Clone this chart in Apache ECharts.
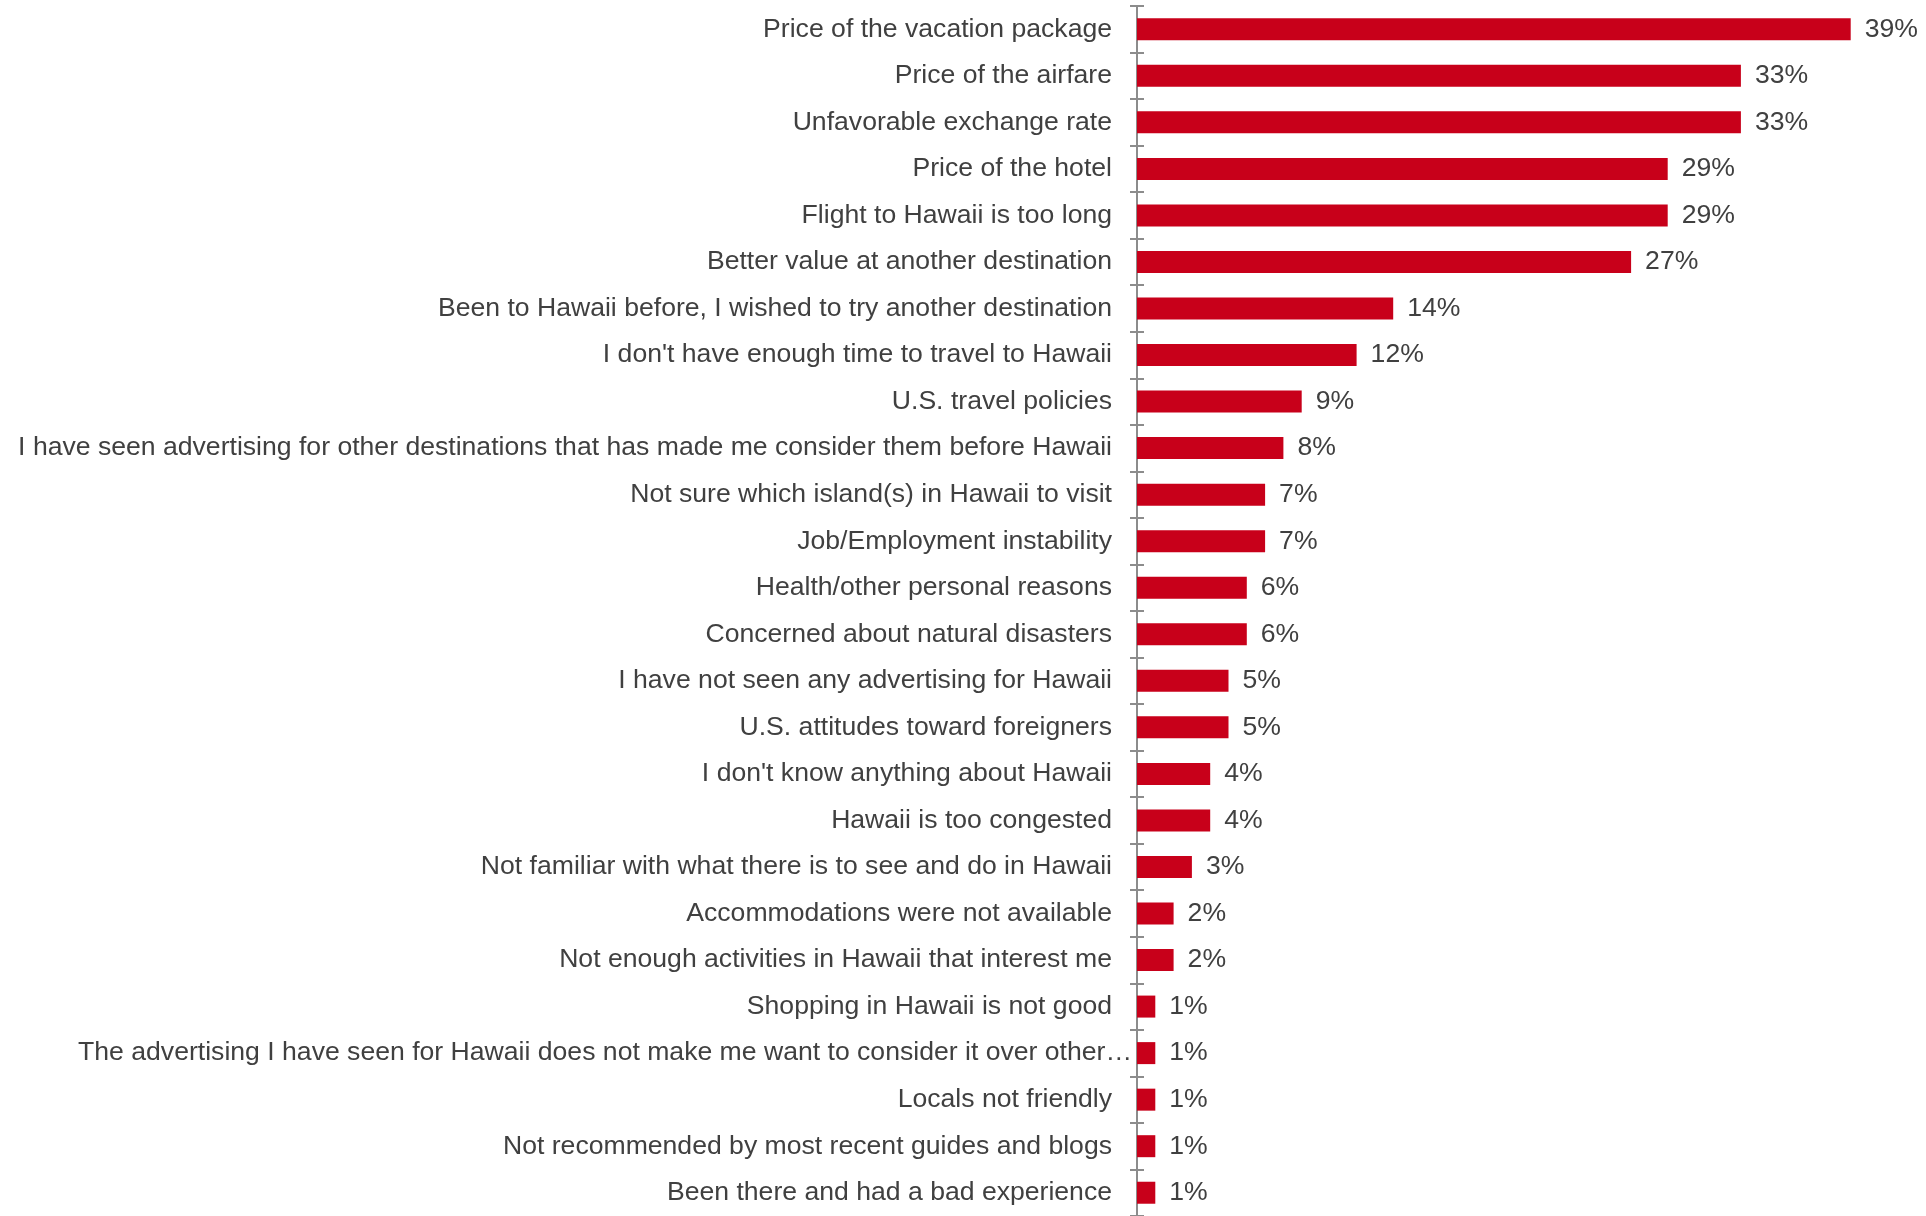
<!DOCTYPE html>
<html>
<head>
<meta charset="utf-8">
<script src="https://cdn.jsdelivr.net/npm/echarts@6/dist/echarts.min.js"></script>
<style>
  html, body { margin: 0; padding: 0; background: #ffffff; }
  #chart { width: 1926px; height: 1216px; }
</style>
</head>
<body>
<div id="chart"></div>
<script>
// Reasons for not choosing Hawaii (share of respondents, %)
const categories = [
  "Price of the vacation package",
  "Price of the airfare",
  "Unfavorable exchange rate",
  "Price of the hotel",
  "Flight to Hawaii is too long",
  "Better value at another destination",
  "Been to Hawaii before, I wished to try another destination",
  "I don't have enough time to travel to Hawaii",
  "U.S. travel policies",
  "I have seen advertising for other destinations that has made me consider them before Hawaii",
  "Not sure which island(s) in Hawaii to visit",
  "Job/Employment instability",
  "Health/other personal reasons",
  "Concerned about natural disasters",
  "I have not seen any advertising for Hawaii",
  "U.S. attitudes toward foreigners",
  "I don't know anything about Hawaii",
  "Hawaii is too congested",
  "Not familiar with what there is to see and do in Hawaii",
  "Accommodations were not available",
  "Not enough activities in Hawaii that interest me",
  "Shopping in Hawaii is not good",
  "The advertising I have seen for Hawaii does not make me want to consider it over other…",
  "Locals not friendly",
  "Not recommended by most recent guides and blogs",
  "Been there and had a bad experience"
];

const values = [39, 33, 33, 29, 29, 27, 14, 12, 9, 8, 7, 7, 6, 6, 5, 5, 4, 4, 3, 2, 2, 1, 1, 1, 1, 1];

// the clipped label runs right up to the axis line
const clippedLabel = categories[22];

const chart = echarts.init(document.getElementById('chart'), null, { renderer: 'canvas' });

const textColor = '#404040';
const axisGrey = '#8c8c8c';
const fontFamily = '"Liberation Sans", Arial, sans-serif';
const fontSize = 26.6;

const categoryItems = categories.map(function (name) {
  if (name === clippedLabel) {
    return { value: name, textStyle: { padding: [0, -20, 0, 0] } };
  }
  return name;
});

chart.setOption({
  animation: false,
  backgroundColor: '#ffffff',
  // the plot runs slightly past the lower edge of the canvas
  grid: { left: 1137, width: 732, top: 6, height: 1217, containLabel: false },
  xAxis: {
    type: 'value',
    min: 0,
    max: 40,
    show: false
  },
  yAxis: [
    {
      type: 'category',
      data: categoryItems,
      inverse: true,
      position: 'left',
      axisLine: { show: true, lineStyle: { color: axisGrey, width: 2 } },
      axisTick: { show: true, inside: false, length: 7, lineStyle: { color: axisGrey, width: 2 } },
      axisLabel: {
        margin: 25,
        color: textColor,
        fontSize: fontSize,
        fontFamily: fontFamily
      },
      splitLine: { show: false }
    },
    {
      // mirrored ticks so each divider crosses the axis line
      type: 'category',
      data: categories,
      inverse: true,
      position: 'left',
      axisLine: { show: false },
      axisTick: { show: true, inside: true, length: 7, lineStyle: { color: axisGrey, width: 2 } },
      axisLabel: { show: false },
      splitLine: { show: false }
    }
  ],
  series: [
    {
      type: 'bar',
      yAxisIndex: 0,
      data: values,
      barWidth: 22,
      itemStyle: { color: '#C8001A' },
      label: {
        show: true,
        position: 'right',
        distance: 14,
        formatter: '{c}%',
        color: textColor,
        fontSize: fontSize,
        fontFamily: fontFamily
      }
    }
  ]
});
</script>
</body>
</html>
